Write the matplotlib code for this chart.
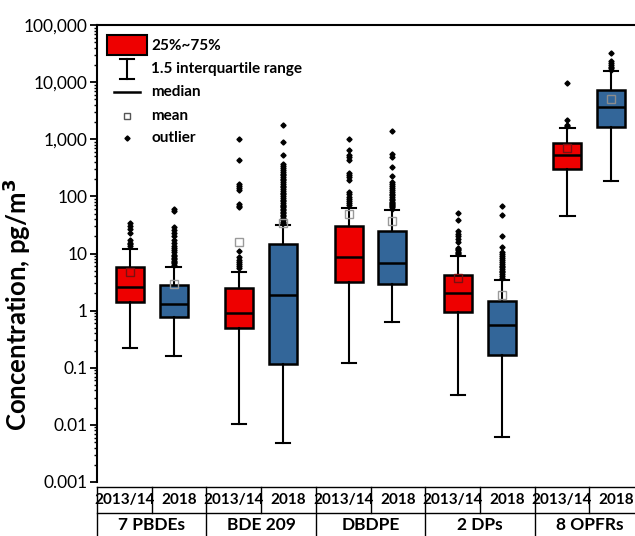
import matplotlib
matplotlib.use("Agg")
import matplotlib.pyplot as plt
from matplotlib.patches import Rectangle
from matplotlib.ticker import FixedLocator, LogLocator, NullFormatter
import numpy as np

plt.rcParams['font.family'] = ['Lato', 'DejaVu Sans']

groups = ["7 PBDEs", "BDE 209", "DBDPE", "2 DPs", "8 OPFRs"]
years = ["2013/14", "2018"]

q1 = [1.4, 0.78, 0.49, 0.116, 3.2, 2.94, 0.95, 0.169, 306, 1645]
med = [2.56, 1.31, 0.92, 1.91, 8.6, 6.8, 2.07, 0.56, 538, 3600]
q3 = [5.8, 2.85, 2.46, 14.4, 30, 24.3, 4.2, 1.46, 860, 7240]
whislo = [0.218, 0.163, 0.0103, 0.0048, 0.121, 0.64, 0.0336, 0.0062, 45, 183]
whishi = [12.1, 5.9, 4.8, 31, 62, 57, 9.2, 3.46, 1600, 15600]
means = [4.7, 2.9, 16, 34, 49, 37, 3.8, 1.9, 705, 5100]

out_pbde_1314 = [34, 30, 27, 23, 17, 15.5, 14.5, 13.5]
out_pbde_2018 = [61, 56, 29, 26, 23, 20, 17, 15, 13.5, 12.5, 11.5, 10.5, 9.5, 9,
                 8.5, 8, 7.5, 7, 6.7, 6.4]
out_bde209_1314 = [1020, 430, 165, 150, 140, 127, 75, 69, 66, 11, 8.6, 7.6, 7, 6.5, 6, 5.5]
out_bde209_2018 = [1800, 910, 525, 370, 340, 310, 290, 270, 250, 235, 220, 205, 190,
                   178, 165, 155, 145, 135, 125, 115, 108, 100, 93, 87, 82, 77, 72,
                   68, 64, 60, 57, 54, 51, 48, 45, 42, 39, 36, 34]
out_dbdpe_1314 = [1000, 650, 530, 480, 440, 260, 235, 215, 190, 118, 108, 98, 90, 84, 78, 72]
out_dbdpe_2018 = [1400, 560, 490, 325, 225, 178, 165, 152, 140, 130, 120, 112, 104, 97,
                  91, 86, 81, 77, 73, 70, 67, 64, 61]
out_dps_1314 = [52, 39, 25, 22, 20, 18, 16, 12.6, 12, 11.3, 10.7, 10.2, 9.8]
out_dps_2018 = [69, 48, 20, 13, 10.5, 9.8, 9, 8.3, 7.7, 7.2, 6.6, 6.1, 5.7, 5.3, 5,
                4.7, 4.4, 4.1, 3.8]
out_opfr_1314 = [9500, 2140, 1780, 1700]
out_opfr_2018 = [31800, 23400, 21500, 20000, 18500, 17400, 16500]

outliers = [out_pbde_1314, out_pbde_2018, out_bde209_1314, out_bde209_2018,
            out_dbdpe_1314, out_dbdpe_2018, out_dps_1314, out_dps_2018,
            out_opfr_1314, out_opfr_2018]

ytick_vals = [0.001, 0.01, 0.1, 1, 10, 100, 1000, 10000, 100000]
ytick_labels = ["0.001", "0.01", "0.1", "1", "10", "100", "1,000", "10,000", "100,000"]

RED = "#EE0000"
BLUE = "#336699"

W, H = 635, 536
fig = plt.figure(figsize=(W / 100, H / 100), dpi=100)
ax_l, ax_r, ax_t, ax_b = 97, 644, 25, 482
ax = fig.add_axes([ax_l / W, (H - ax_b) / H, (ax_r - ax_l) / W, (ax_b - ax_t) / H])

positions = []
for g in range(len(groups)):
    positions += [g + 0.3, g + 0.7]
colors = [RED, BLUE] * len(groups)

stats = []
for i in range(len(positions)):
    stats.append(dict(med=med[i], q1=q1[i], q3=q3[i], whislo=whislo[i],
                      whishi=whishi[i], mean=means[i], fliers=outliers[i]))

bp = ax.bxp(stats, positions=positions, widths=0.255, patch_artist=True,
            showmeans=False, capwidths=0.13,
            boxprops=dict(linewidth=1.8, edgecolor='black'),
            medianprops=dict(color='black', linewidth=1.8),
            whiskerprops=dict(color='black', linewidth=1.5),
            capprops=dict(color='black', linewidth=1.5),
            flierprops=dict(marker='D', markersize=2.6, markerfacecolor='black',
                            markeredgecolor='black', linestyle='none'))
for patch, c in zip(bp['boxes'], colors):
    patch.set_facecolor(c)

mean_edge = ['#7a1010', '#8c8c8c'] * len(groups)
for i in range(len(positions)):
    ec = mean_edge[i] if q1[i] <= means[i] <= q3[i] else '#9a9a9a'
    ax.plot([positions[i]], [means[i]], marker='s', markersize=5.5,
            markerfacecolor='none', markeredgecolor=ec, markeredgewidth=1.0,
            linestyle='none', zorder=5)

ax.set_yscale('log')
ax.set_ylim(0.001, 100000)
ax.set_xlim(0, 5)
ax.yaxis.set_major_locator(FixedLocator(ytick_vals))
ax.set_yticklabels(ytick_labels, fontsize=12.5)
ax.yaxis.set_minor_locator(LogLocator(base=10, subs=np.arange(2, 10), numticks=20))
ax.yaxis.set_minor_formatter(NullFormatter())
ax.tick_params(axis='y', which='major', direction='out', length=5, width=1.3, pad=2)
ax.tick_params(axis='y', which='minor', direction='out', length=2.5, width=1.0)
ax.set_xticks([])
ax.spines['bottom'].set_visible(False)
ax.spines['right'].set_visible(False)
for s in ['left', 'top']:
    ax.spines[s].set_linewidth(1.5)


def ay(py):
    return (ax_b - py) / (ax_b - ax_t)


def axx(px):
    return (px - ax_l) / (ax_r - ax_l)


ax.set_ylabel("Concentration, pg/m$\\mathbf{^3}$", fontsize=18.5, fontweight='bold')
ax.yaxis.set_label_coords(axx(33), ay(305))

# table below the axes
t_top, t_mid, t_bot = ay(487), ay(513), ay(540)
tr = ax.get_xaxis_transform()
lk = dict(color='black', linewidth=1.0, clip_on=False, transform=tr)
ax.plot([0, 5], [t_top, t_top], **lk)
ax.plot([0, 5], [t_mid, t_mid], **lk)
for g in range(len(groups) + 1):
    ax.plot([g, g], [t_top, t_bot], **lk)
for g in range(len(groups)):
    ax.plot([g + 0.5, g + 0.5], [t_top, t_mid], **lk)
    for k, yl in enumerate(years):
        ax.text(g + 0.25 + 0.5 * k, (t_top + t_mid) / 2, yl, transform=tr,
                ha='center', va='center', fontsize=11, fontweight='bold', clip_on=False)
    ax.text(g + 0.5, ay(525), groups[g], transform=tr, ha='center', va='center',
            fontsize=12.5, fontweight='bold', clip_on=False)

# legend (drawn manually)
ta = ax.transAxes
ax.add_patch(Rectangle((axx(107), ay(55)), axx(147) - axx(107), ay(35) - ay(55),
                       transform=ta, facecolor=RED, edgecolor='black', linewidth=1.5,
                       zorder=6))
cx = axx(127)
ax.plot([cx, cx], [ay(59), ay(79)], color='black', lw=1.5, transform=ta)
ax.plot([axx(120), axx(134)], [ay(59), ay(59)], color='black', lw=1.5, transform=ta)
ax.plot([axx(120), axx(134)], [ay(79), ay(79)], color='black', lw=1.5, transform=ta)
ax.plot([axx(114), axx(140)], [ay(92), ay(92)], color='black', lw=1.8, transform=ta)
ax.plot([cx], [ay(116)], marker='s', markersize=4.5, markerfacecolor='none',
        markeredgecolor='#555555', markeredgewidth=1.0, transform=ta)
ax.plot([cx], [ay(138)], marker='D', markersize=2.6, color='black', transform=ta)
leg_text = ["25%~75%", "1.5 interquartile range", "median", "mean", "outlier"]
leg_y = [46, 69, 92, 116, 138]
for t, yy in zip(leg_text, leg_y):
    ax.text(axx(151), ay(yy), t, transform=ta, ha='left', va='center',
            fontsize=11, fontweight='bold')

fig.savefig("out.png", dpi=100)
